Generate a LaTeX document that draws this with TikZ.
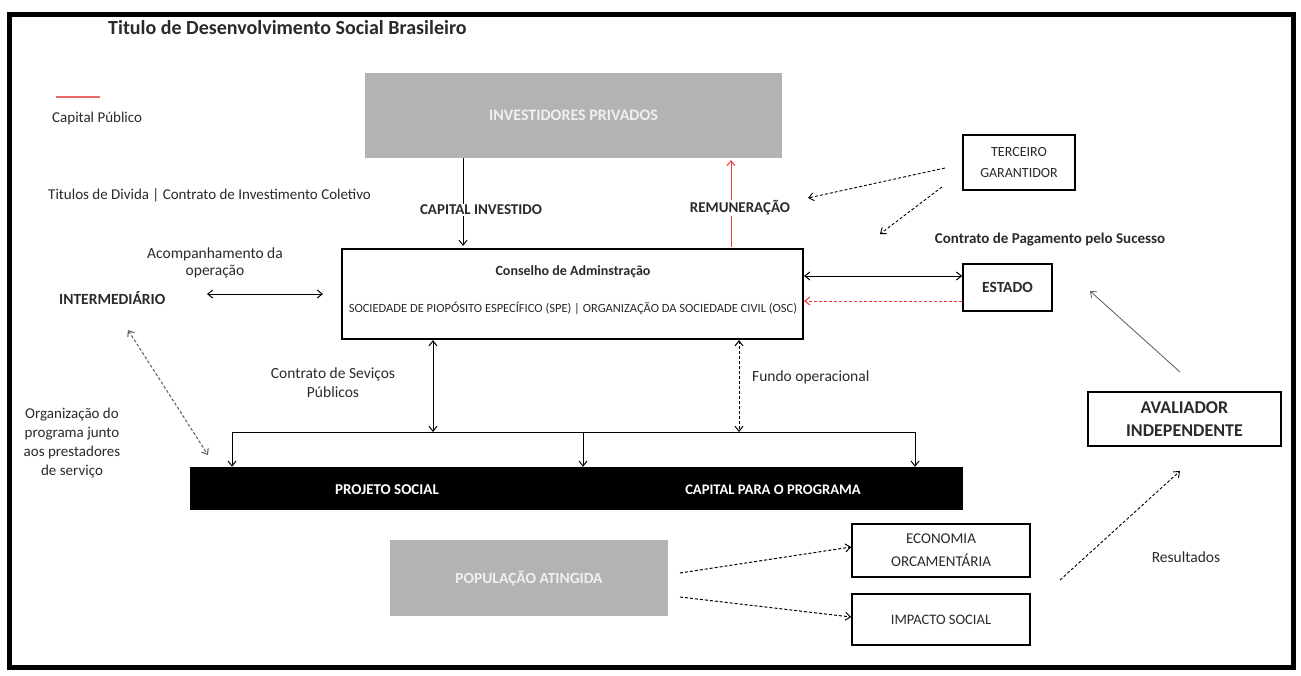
\documentclass[tikz,border=0pt]{standalone}
\usepackage{fontspec}
\setmainfont{Carlito}
\usetikzlibrary{arrows.meta}
\definecolor{boxgray}{HTML}{B3B3B3}
\definecolor{redline}{HTML}{F03C3C}
\definecolor{pinkline}{HTML}{EE6A6A}
\definecolor{txtgray}{HTML}{2A2A2A}
\newcommand{\fs}[2]{\fontsize{#1}{#2}\selectfont}
\begin{document}
\begin{tikzpicture}[x=1pt,y=-1pt,
  txt/.style={text=txtgray, align=center, inner sep=1pt},
  graybox/.style={fill=boxgray, draw=none, text=white!88!gray},
  wbox/.style={draw=black, line width=1.6pt, fill=white, align=center, text=txtgray},
  arr/.style={-{Straight Barb[length=5pt,width=8pt]}, line width=1pt},
  darr/.style={{Straight Barb[length=5pt,width=8pt]}-{Straight Barb[length=5pt,width=8pt]}, line width=1pt},
  dsh/.style={dash pattern=on 3pt off 2pt}
]
\useasboundingbox (0,0) rectangle (1301,675);
\fill[white] (0,0) rectangle (1301,675);
\draw[line width=5pt] (9,14) rectangle (1293,667);

% title and legend
\node[txt, font=\fs{20}{24}\bfseries, anchor=west, inner sep=0] (title) at (108,28) {Titulo de Desenvolvimento Social Brasileiro};
\coordinate (lg1) at (56,97); \coordinate (lg2) at (100,97);
\draw[draw=pinkline, line width=1.3pt] (lg1) -- (lg2);
\node[txt, font=\fs{15}{18}, anchor=west] (legend) at (51,118) {Capital Público};

% top
\node[graybox, font=\fs{16}{19}\bfseries, minimum width=417pt, minimum height=85pt] (inv) at (573.5,115.5) {INVESTIDORES PRIVADOS};
\node[txt, font=\fs{15}{18}, anchor=west] (titulos) at (47,195) {Titulos de Divida | Contrato de Investimento Coletivo};

% conselho
\node[draw, line width=2.2pt, minimum width=461pt, minimum height=90pt, inner sep=0] (cons) at (572.5,294) {};
\node[txt, font=\fs{14}{16}\bfseries] (consT) at (573,272) {Conselho de Adminstração};
\node[txt, font=\fs{12.5}{15}] (consS) at (573,308) {SOCIEDADE DE PIOPÓSITO ESPECÍFICO (SPE) | ORGANIZAÇÃO DA SOCIEDADE CIVIL (OSC)};

% capital investido / remuneracao
\coordinate (ci1) at (463,158); \coordinate (ci2) at (463,246);
\draw[arr] (ci1) -- (ci2);
\node[txt, font=\fs{15}{18}\bfseries, fill=white] (capinv) at (481,210) {CAPITAL INVESTIDO};
\coordinate (re1) at (731,247); \coordinate (re2) at (731,160);
\draw[arr, draw=redline] (re1) -- (re2);
\node[txt, font=\fs{15}{18}\bfseries, fill=white] (remu) at (740,208) {REMUNERAÇÃO};

% terceiro
\node[wbox, minimum width=112pt, minimum height=55pt, font=\fs{14}{21}] (terc) at (1019,162.5) {TERCEIRO\\GARANTIDOR};
\coordinate (t1) at (945,168); \coordinate (t2) at (808,198);
\coordinate (t3) at (942,187); \coordinate (t4) at (880,234);
\draw[arr, dsh, line width=0.9pt] (t1) -- (t2);
\draw[arr, dsh, line width=0.9pt] (t3) -- (t4);
\node[txt, font=\fs{15}{18}\bfseries] (cps) at (1050,240) {Contrato de Pagamento pelo Sucesso};

% estado
\node[wbox, minimum width=89pt, minimum height=47pt, font=\fs{15.5}{18}\bfseries] (estado) at (1007.5,287.5) {ESTADO};
\draw[darr] (cons.east |- 0,276) -- (estado.west |- 0,276);
\draw[arr, draw=redline, dsh] (estado.west |- 0,301) -- (cons.east |- 0,301);

% intermediario
\node[txt, font=\fs{15.5}{18}\bfseries, anchor=west] (inter) at (58,298) {INTERMEDIÁRIO};
\node[txt, font=\fs{15.5}{17}] (acomp) at (215,263) {Acompanhamento da\\operação};
\coordinate (ia1) at (207,294); \coordinate (ia2) at (323,294);
\draw[darr] (ia1) -- (ia2);
\coordinate (id1) at (128,330); \coordinate (id2) at (208,455);
\draw[darr, dsh, draw=gray!80!black, line width=1.1pt] (id1) -- (id2);
\node[txt, font=\fs{15}{19}] (org) at (72,443) {Organização do\\programa junto\\aos prestadores\\de serviço};

% contrato / fundo
\node[txt, font=\fs{15.5}{19}] (csp) at (333,383) {Contrato de Seviços\\Públicos};
\coordinate (b1) at (433,432); \coordinate (b2) at (739,432);
\draw[darr] (cons.south -| b1) -- (b1);
\draw[darr, dsh] (cons.south -| b2) -- (b2);
\node[txt, font=\fs{15.5}{18}, anchor=west] (fundo) at (751,377) {Fundo operacional};

% bracket
\coordinate (bl) at (232,432); \coordinate (br) at (915,432); \coordinate (bm) at (583,432);
\draw[line width=1pt] (bl) -- (br);
\node[fill=black, minimum width=773pt, minimum height=43pt, inner sep=0] (bar) at (576.5,488.5) {};
\draw[arr] (bl) -- (bl |- bar.north);
\draw[arr] (bm) -- (bm |- bar.north);
\draw[arr] (br) -- (br |- bar.north);
\node[txt, text=white, font=\fs{15}{18}\bfseries] (proj) at (387,490) {PROJETO SOCIAL};
\node[txt, text=white, font=\fs{14.6}{18}\bfseries] (capprog) at (773,490) {CAPITAL PARA O PROGRAMA};

% avaliador
\node[wbox, minimum width=193pt, minimum height=54pt, font=\fs{18}{23}\bfseries] (aval) at (1184.5,419) {AVALIADOR\\INDEPENDENTE};
\coordinate (av1) at (1180,372); \coordinate (av2) at (1090,291);
\draw[arr, draw=gray!70!black, line width=0.8pt] (av1) -- (av2);
\coordinate (rs1) at (1060,580); \coordinate (rs2) at (1180,471);
\draw[arr, dsh, line width=0.9pt] (rs1) -- (rs2);
\node[txt, font=\fs{15.5}{18}] (res) at (1186,557) {Resultados};

% populacao
\node[graybox, font=\fs{15.5}{18}\bfseries, minimum width=278pt, minimum height=76pt] (pop) at (529,578) {POPULAÇÃO ATINGIDA};
\node[wbox, minimum width=178pt, minimum height=53pt, font=\fs{15}{23}] (eco) at (941,550.5) {ECONOMIA\\ORCAMENTÁRIA};
\node[wbox, minimum width=178pt, minimum height=51pt, font=\fs{14.5}{18}] (imp) at (941,619.5) {IMPACTO SOCIAL};
\coordinate (p1) at (680,573); \coordinate (p2) at (680,597);
\draw[arr, dsh] (p1) -- (eco.west |- 0,547);
\draw[arr, dsh] (p2) -- (imp.west |- 0,617);
\end{tikzpicture}
\end{document}
